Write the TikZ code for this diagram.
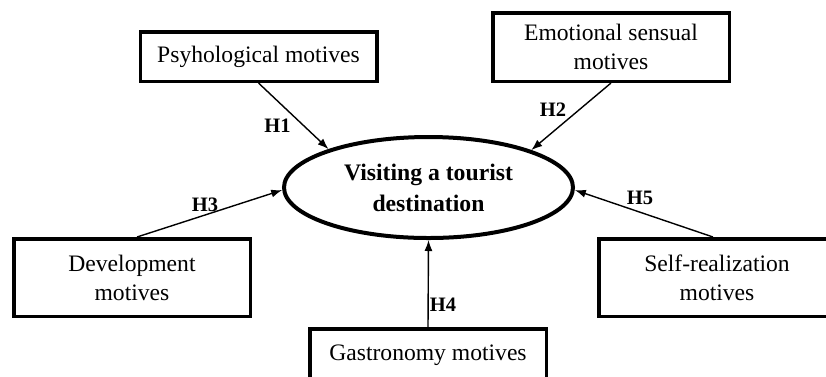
\documentclass[tikz,border=0pt]{standalone}
\usepackage{fontspec}
\setmainfont{Liberation Serif}
\usetikzlibrary{shapes.geometric,arrows.meta}
\tikzset{
  motive/.style={draw, line width=3.5pt, rectangle, align=center, inner sep=0pt,
    font=\fontsize{23.6}{29}\selectfont, minimum width=236.5pt},
  target/.style={draw, line width=4pt, ellipse, align=center, inner sep=0pt,
    minimum width=289pt, minimum height=101pt, font=\bfseries\fontsize{23.7}{31}\selectfont},
  hyp/.style={font=\bfseries\fontsize{20.5}{24}\selectfont, inner sep=0pt},
  link/.style={line width=1.4pt, -{Latex[length=11pt,width=8pt]}}
}
\begin{document}
\begin{tikzpicture}[x=1pt,y=-1pt]
\clip (0,0) rectangle (826,376);
\fill[white] (0,0) rectangle (826,376);
\node[target] (ell) at (428.5,187.5) {Visiting a tourist\\destination};
\node[motive, minimum height=49.5pt] (psy) at (258.5,56.5) {Psyhological motives};
\node[motive, minimum height=68.5pt] (emo) at (611,47) {Emotional sensual\\motives};
\node[motive, minimum height=77.5pt] (dev) at (132,277.5) {Development\\motives};
\node[motive, minimum height=77.5pt] (sr) at (717,277.5) {Self-realization\\motives};
\node[motive, minimum height=52.5pt] (gas) at (428,355) {Gastronomy motives};
\draw[link] (psy.south) -- (ell.159.5);
\draw[link] (emo.south) -- (ell.20.8);
\draw[link] ([xshift=5pt]dev.north) -- (ell.181.4);
\draw[link] (gas.north) -- (ell.270);
\draw[link] ([xshift=-4pt]sr.north) -- (ell.359.4);
\node[hyp] (h1) at (277.5,126) {H1};
\node[hyp] (h2) at (553,110) {H2};
\node[hyp] (h3) at (205,205) {H3};
\node[hyp] (h4) at (443,305) {H4};
\node[hyp] (h5) at (640,198) {H5};
\end{tikzpicture}
\end{document}
